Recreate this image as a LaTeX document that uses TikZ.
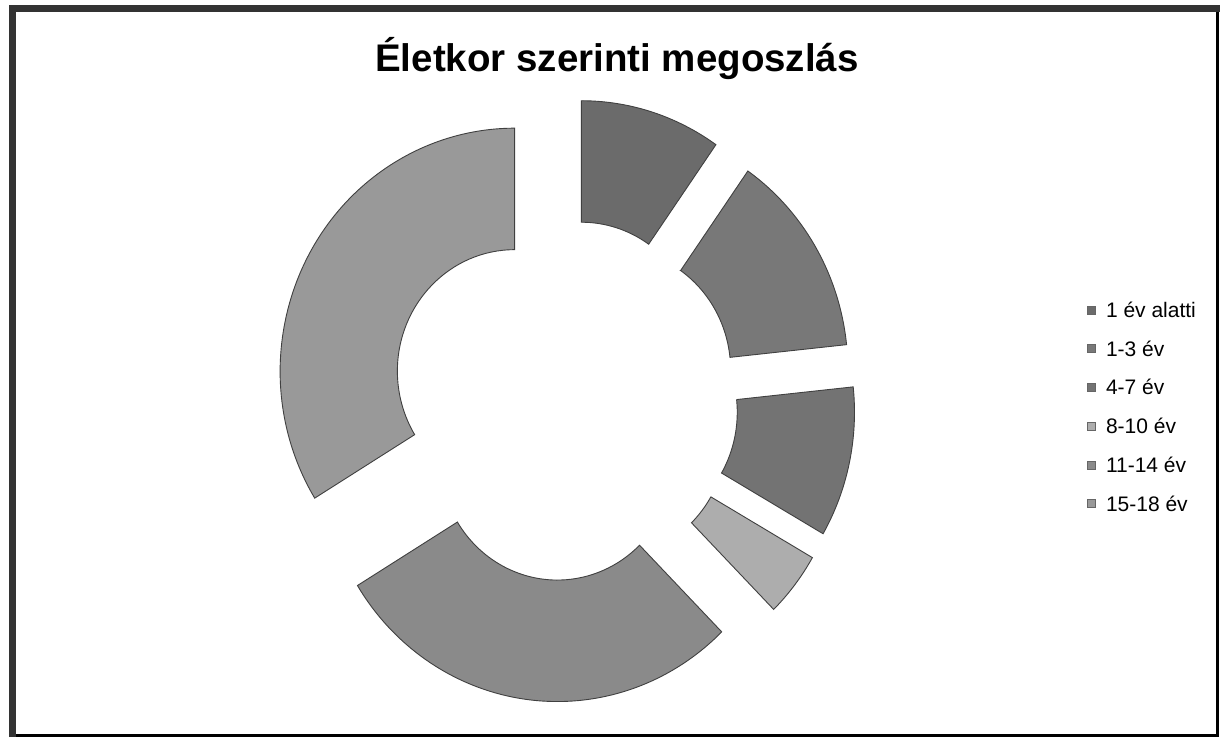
\documentclass[tikz,border=0pt]{standalone}
\usepackage{fontspec}
\setmainfont{Liberation Sans}
\usetikzlibrary{positioning}
\usetikzlibrary{calc}

\definecolor{ageA}{gray}{0.42}
\definecolor{ageB}{gray}{0.47}
\definecolor{ageC}{gray}{0.45}
\definecolor{ageD}{gray}{0.68}
\definecolor{ageE}{gray}{0.54}
\definecolor{ageF}{gray}{0.60}

\begin{document}
\begin{tikzpicture}[x=1pt,y=1pt,node distance=30.3pt,semithick]
	\tikzstyle{slice}=[draw=black!75,line width=0.9pt]
	\tikzstyle{legmark}=[draw=black!60,line width=0.4pt,minimum size=8pt,inner sep=0pt]
	\tikzstyle{legtext}=[font=\fontsize{21}{21}\selectfont,inner sep=0pt,text height=15pt,text depth=0pt]
	\tikzstyle{border}=[black!80,line width=7pt]
	
	\useasboundingbox (0,0) rectangle (1220,737);
	\fill[white] (0,0) rectangle (1220,737);
	
	% frame
	\draw[line width=3pt] (12,2) -- (1217,2) -- (1217,729);
	\draw[border] (12,0) -- (12,728.5) -- (1220,728.5);
	
	\node[font=\fontsize{38.5}{40}\selectfont\bfseries,anchor=base] (title) at (617,665) {Életkor szerinti megoszlás};
	
	% doughnut, every slice pushed out along its middle
	\coordinate (C) at (564.3,337);
	\begin{scope}[shift={(C)},xscale=0.965]
		\filldraw[slice,fill=ageA,shift={(72.5:59)}] (90:121.5) -- (90:243) arc[start angle=90,end angle=55,radius=243] -- (55:121.5) arc[start angle=55,end angle=90,radius=121.5] -- cycle;
		\filldraw[slice,fill=ageB,shift={(30.5:59)}] (55:121.5) -- (55:243) arc[start angle=55,end angle=6,radius=243] -- (6:121.5) arc[start angle=6,end angle=55,radius=121.5] -- cycle;
		\filldraw[slice,fill=ageC,shift={(-12:59)}] (6:121.5) -- (6:243) arc[start angle=6,end angle=-30,radius=243] -- (-30:121.5) arc[start angle=-30,end angle=6,radius=121.5] -- cycle;
		\filldraw[slice,fill=ageD,shift={(-37.75:59)}] (-30:121.5) -- (-30:243) arc[start angle=-30,end angle=-45.5,radius=243] -- (-45.5:121.5) arc[start angle=-45.5,end angle=-30,radius=121.5] -- cycle;
		\filldraw[slice,fill=ageE,shift={(-97:59)}] (-45.5:121.5) -- (-45.5:243) arc[start angle=-45.5,end angle=-148.5,radius=243] -- (-148.5:121.5) arc[start angle=-148.5,end angle=-45.5,radius=121.5] -- cycle;
		\filldraw[slice,fill=ageF,shift={(150.75:59)}] (211.5:121.5) -- (211.5:243) arc[start angle=211.5,end angle=90,radius=243] -- (90:121.5) arc[start angle=90,end angle=211.5,radius=121.5] -- cycle;
	\end{scope}
	
	% legend
	\node[legmark,fill=ageA] (m1) at (1091,427) {};
	\node[legtext,right=10.5pt of m1] (l1) {1 év alatti};
	\node[legmark,fill=ageB] (m2) [below=of m1] {};
	\node[legtext,right=10.5pt of m2] (l2) {1-3 év};
	\node[legmark,fill=ageC] (m3) [below=of m2] {};
	\node[legtext,right=10.5pt of m3] (l3) {4-7 év};
	\node[legmark,fill=ageD] (m4) [below=of m3] {};
	\node[legtext,right=10.5pt of m4] (l4) {8-10 év};
	\node[legmark,fill=ageE] (m5) [below=of m4] {};
	\node[legtext,right=10.5pt of m5] (l5) {11-14 év};
	\node[legmark,fill=ageF] (m6) [below=of m5] {};
	\node[legtext,right=10.5pt of m6] (l6) {15-18 év};
\end{tikzpicture}
\end{document}
